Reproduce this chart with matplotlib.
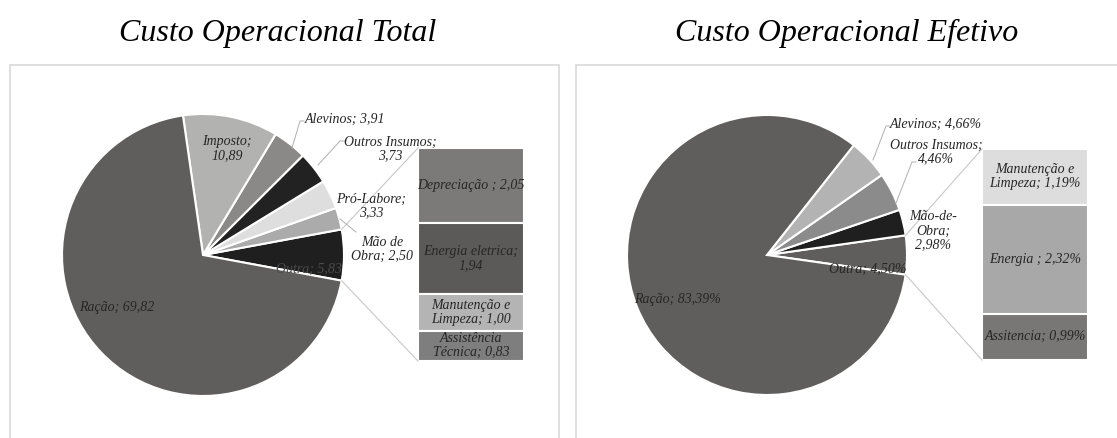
import numpy as np
import matplotlib
matplotlib.use('Agg')
import matplotlib.pyplot as plt
from matplotlib.patches import Rectangle

plt.rcParams['font.family'] = ['Liberation Serif', 'DejaVu Serif']

# ---- data: Custo Operacional Total ----
tot_labels = ['Outra', 'Mão de Obra', 'Pró-Labore', 'Outros Insumos', 'Alevinos', 'Imposto', 'Ração']
tot_values = [5.83, 2.50, 3.33, 3.73, 3.91, 10.89, 69.82]
tot_colors = ['#1f1f1f', '#ababab', '#dedede', '#222222', '#8a8988', '#b2b2b1', '#5f5e5c']
tot_bar_labels = ['Depreciação', 'Energia eletrica', 'Manutenção e\nLimpeza', 'Assistência\nTécnica']
tot_bar_values = [2.05, 1.94, 1.00, 0.83]
tot_bar_colors = ['#7b7a78', '#5b5a58', '#b4b4b4', '#7e7e7e']

# ---- data: Custo Operacional Efetivo ----
ef_labels = ['Outra', 'Mão-de-Obra', 'Outros Insumos', 'Alevinos', 'Ração']
ef_values = [4.50, 2.98, 4.46, 4.66, 83.39]
ef_colors = ['#5f5e5c', '#1f1f1f', '#8b8b8b', '#b3b3b3', '#5f5e5c']
ef_bar_labels = ['Manutenção e\nLimpeza', 'Energia', 'Assitencia']
ef_bar_values = [1.19, 2.32, 0.99]
ef_bar_colors = ['#dddddd', '#a8a8a8', '#787776']

W, H = 1117, 438
fig = plt.figure(figsize=(W / 100, H / 100), dpi=100)
ax = fig.add_axes([0, 0, 1, 1])


def Y(y):
    # pixel row (from top) -> data y
    return H - y


def fmt(v, pct=False):
    s = f'{v:.2f}'.replace('.', ',')
    return s + '%' if pct else s


def bar_of_pie(values, colors, center, radius, bar_vals, bar_colors, bar_x, bar_w, bar_top, bar_h):
    total = sum(values)
    half = values[0] / total * 180.0
    ax.pie(values, colors=colors, startangle=-half, counterclock=True,
           center=center, radius=radius,
           wedgeprops=dict(edgecolor='white', linewidth=1.5))
    scale = bar_h / sum(bar_vals)
    heights = [v * scale for v in bar_vals]
    bottoms = [Y(bar_top) - sum(heights[:i + 1]) for i in range(len(heights))]
    ax.bar([bar_x + bar_w / 2] * len(heights), heights, width=bar_w, bottom=bottoms,
           color=bar_colors, edgecolor='white', linewidth=1.5)
    # connector lines from the "other" slice to the bar
    a = np.deg2rad(half)
    cx, cy = center
    p_top = (cx + radius * np.cos(a), cy + radius * np.sin(a))
    p_bot = (cx + radius * np.cos(a), cy - radius * np.sin(a))
    ax.plot([p_top[0], bar_x], [p_top[1], Y(bar_top)], color='#c8c8c8', lw=0.8)
    ax.plot([p_bot[0], bar_x], [p_bot[1], Y(bar_top) - bar_h], color='#c8c8c8', lw=0.8)
    return [b + h / 2 for b, h in zip(bottoms, heights)]


lab = dict(fontsize=10, style='italic', color='#262626', ha='center', va='center', linespacing=1.1)

# ---- left chart ----
mids = bar_of_pie(tot_values, tot_colors, (203, Y(255)), 141, tot_bar_values, tot_bar_colors,
                  418, 106, 148, 213)
for t, v, m in zip(tot_bar_labels, tot_bar_values, mids):
    sep = ' ; ' if t == 'Depreciação' else ('; ' if '\n' in t else ';\n')
    ax.text(471, m, t + sep + fmt(v), **lab)

ax.text(117, Y(307), f'{tot_labels[6]}; {fmt(tot_values[6])}', **lab)
ax.text(227, Y(149), f'{tot_labels[5]};\n{fmt(tot_values[5])}', **lab)
ax.text(305, Y(119), f'{tot_labels[4]}; {fmt(tot_values[4])}', **dict(lab, ha='left'))
ax.text(390, Y(149), f'{tot_labels[3]};\n{fmt(tot_values[3])}', **lab)
ax.text(371, Y(206), f'{tot_labels[2]};\n{fmt(tot_values[2])}', **lab)
ax.text(382, Y(249), f'Mão de\nObra; {fmt(tot_values[1])}', **lab)
ax.text(309, Y(269), f'{tot_labels[0]}; {fmt(tot_values[0])}', **dict(lab, color='#4a4a4a'))
ax.plot([292, 300, 304], [Y(148), Y(121), Y(121)], color='#b0b0b0', lw=0.7)
ax.plot([318, 340, 346], [Y(165), Y(141), Y(141)], color='#b0b0b0', lw=0.7)
ax.plot([340, 356], [Y(219), Y(232)], color='#b0b0b0', lw=0.7)

# ---- right chart ----
mids = bar_of_pie(ef_values, ef_colors, (767, Y(255)), 140, ef_bar_values, ef_bar_colors,
                  982, 106, 149, 211)
for t, v, m in zip(ef_bar_labels, ef_bar_values, mids):
    sep = ' ; ' if t == 'Energia' else '; '
    ax.text(1035, m, t + sep + fmt(v, True), **lab)

ax.text(677, Y(299), f'{ef_labels[4]}; {fmt(ef_values[4], True)}', **lab)
ax.text(890, Y(124), f'{ef_labels[3]}; {fmt(ef_values[3], True)}', **dict(lab, ha='left'))
ax.text(936, Y(152), f'{ef_labels[2]};\n{fmt(ef_values[2], True)}', **lab)
ax.text(933, Y(231), f'Mão-de-\nObra;\n{fmt(ef_values[1], True)}', **lab)
ax.text(868, Y(269), f'{ef_labels[0]}; {fmt(ef_values[0], True)}', **lab)
ax.plot([873, 886, 890], [Y(160), Y(126), Y(126)], color='#b0b0b0', lw=0.7)
ax.plot([896, 912, 916], [Y(203), Y(162), Y(162)], color='#b0b0b0', lw=0.7)

# titles and frames
ax.text(278, Y(33), 'Custo Operacional Total', fontsize=23, style='italic', ha='center', va='center')
ax.text(847, Y(33), 'Custo Operacional Efetivo', fontsize=23, style='italic', ha='center', va='center')
ax.add_patch(Rectangle((10, -5), 549, Y(65) + 5, fill=False, ec='#d9d9d9', lw=1.2))
ax.add_patch(Rectangle((576, -5), 560, Y(65) + 5, fill=False, ec='#d9d9d9', lw=1.2))

ax.set_xlim(0, W)
ax.set_ylim(0, H)
ax.set_aspect('equal')
ax.axis('off')

fig.savefig('out.png', dpi=100)
